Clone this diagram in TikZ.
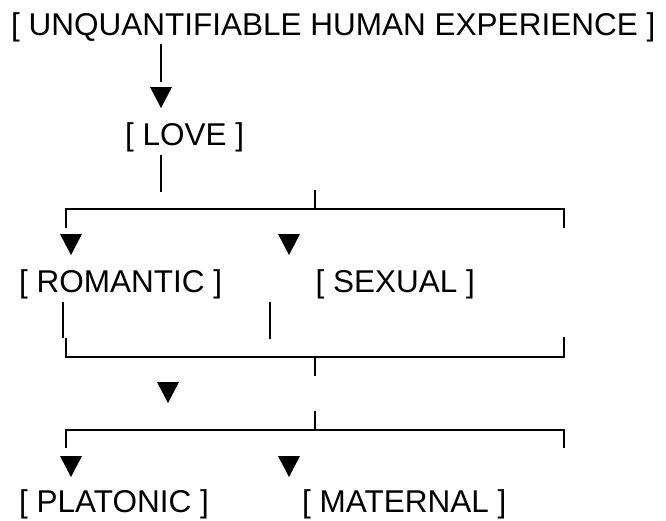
\documentclass[tikz,border=0pt]{standalone}
\usepackage{fontspec}
\setmainfont{Liberation Sans}
\usetikzlibrary{calc,positioning}

\begin{document}
\begin{tikzpicture}[
		x=1pt,y=-1pt,
		term/.style={
			inner sep=0,
			anchor=base west,
			font=\fontsize{31.5}{36}\selectfont,
		},
		wire/.style={
			line width=2pt,
		},
		tipmark/.style={
			fill=black,
		}
	]
	\useasboundingbox (0,0) rectangle (666,520);

	\node[term] (exp) at (11,35) {[ UNQUANTIFIABLE HUMAN EXPERIENCE ]};
	\node[term] (love) at (125,145) {[ LOVE ]};
	\node[term] (rom) at (19,292) {[ ROMANTIC ]};
	\node[term,base right=93pt of rom] (sex) {[ SEXUAL ]};
	\node[term] (pla) at (19,512) {[ PLATONIC ]};
	\node[term,base right=93pt of pla] (mat) {[ MATERNAL ]};

	\coordinate (e1) at (161,44);
	\coordinate (e2) at (161,82);
	\coordinate (v1) at (161,155);
	\coordinate (v2) at (161,192);
	\coordinate (k1) at (315,190);
	\coordinate (k2) at (315,209);
	\coordinate (b1l) at (66,228);
	\coordinate (b1r) at (564,228);

	\coordinate (r1) at (63,302);
	\coordinate (r2) at (63,338);
	\coordinate (s1) at (270,302);
	\coordinate (s2) at (270,339);
	\coordinate (b2l) at (66,338);
	\coordinate (b2r) at (564,337);
	\coordinate (b2m) at (315,357);
	\coordinate (m1) at (315,376);
	\coordinate (m2) at (315,411);
	\coordinate (b3m) at (315,430);
	\coordinate (b3l) at (66,448);
	\coordinate (b3r) at (564,448);

	\coordinate (t1) at (161,108);
	\coordinate (t2) at (71,255);
	\coordinate (t3) at (289,255);
	\coordinate (t4) at (168,403);
	\coordinate (t5) at (71,477);
	\coordinate (t6) at (289,477);

	\draw[wire] (e1) -- (e2);
	\draw[wire] (v1) -- (v2);
	\draw[wire] (k1) -- (k2);
	\draw[wire] (b1l) |- (k2) -| (b1r);

	\draw[wire] (r1) -- (r2);
	\draw[wire] (s1) -- (s2);
	\draw[wire] (b2l) |- (b2m) -| (b2r);
	\draw[wire] (b2m) -- (m1);
	\draw[wire] (m2) -- (b3m);
	\draw[wire] (b3l) |- (b3m) -| (b3r);

	\fill[tipmark] ([shift={(-11,-21)}]t1) -- ++(22,0) -- (t1) -- cycle;
	\fill[tipmark] ([shift={(-11,-21)}]t2) -- ++(22,0) -- (t2) -- cycle;
	\fill[tipmark] ([shift={(-11,-21)}]t3) -- ++(22,0) -- (t3) -- cycle;
	\fill[tipmark] ([shift={(-11,-21)}]t4) -- ++(22,0) -- (t4) -- cycle;
	\fill[tipmark] ([shift={(-11,-21)}]t5) -- ++(22,0) -- (t5) -- cycle;
	\fill[tipmark] ([shift={(-11,-21)}]t6) -- ++(22,0) -- (t6) -- cycle;

\end{tikzpicture}
\end{document}
